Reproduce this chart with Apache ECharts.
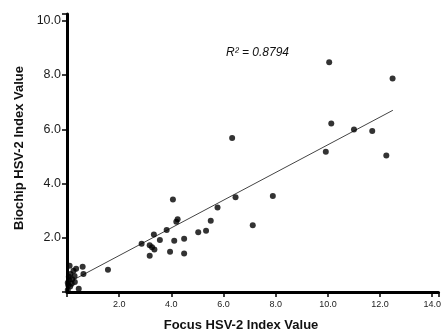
<!DOCTYPE html>
<html>
<head>
<meta charset="utf-8">
<script src="https://cdn.jsdelivr.net/npm/echarts@6/dist/echarts.min.js"></script>
<style>html,body{margin:0;padding:0;background:#fff}#c{width:444px;height:336px}</style>
</head>
<body>
<div id="c"></div>
<script>
// Focus HSV-2 index values (x)
const focusX = [0.03,0.12,0.45,0.03,0.30,0.20,0.07,0.29,0.13,0.63,0.25,0.35,0.10,0.60,0.05,0.08,0.18,
  1.57,
  2.86,3.17,3.26,3.35,3.17,3.33,3.56,3.82,3.95,4.11,4.49,4.49,4.06,4.19,4.24,5.03,5.33,5.51,5.77,6.33,6.46,7.12,7.89,
  9.92,10.05,10.13,11.0,11.7,12.24,12.48];
// Biochip HSV-2 index values (y)
const biochipY = [0.07,0.20,0.12,0.34,0.37,0.47,0.56,0.59,0.66,0.66,0.78,0.86,0.97,0.93,0.25,0.45,0.30,
  0.82,
  1.78,1.72,1.65,1.57,1.34,2.12,1.92,2.29,1.48,1.89,1.96,1.42,3.41,2.59,2.68,2.20,2.26,2.63,3.12,5.68,3.49,2.46,3.54,
  5.17,8.47,6.21,5.99,5.94,5.03,7.87];
// Trend line end points
const trendX = [0.25, 12.49];
const trendY = [0.45, 6.70];
const xTicks = ['2.0','4.0','6.0','8.0','10.0','12.0','14.0'];
const yTicks = ['2.0','4.0','6.0','8.0','10.0'];
const r2Label = 'R² = 0.8794';

const points = focusX.map((x, i) => [x, biochipY[i]]);
const trend = trendX.map((x, i) => [x, trendY[i]]);

const chart = echarts.init(document.getElementById('c'), null, {renderer: 'canvas'});
chart.setOption({
  animation: false,
  grid: {left: 67, top: 14, width: 375, height: 278, containLabel: false},
  xAxis: {
    type: 'value', min: 0, max: 14.24, interval: 2,
    axisLine: {show: true, onZero: false, lineStyle: {color: '#000', width: 3}},
    axisTick: {show: true, length: 5, lineStyle: {color: '#000', width: 1.5}},
    splitLine: {show: false},
    axisLabel: {
      fontSize: 9, color: '#222', fontFamily: 'Liberation Sans, Arial, sans-serif', margin: 8,
      formatter: v => { const s = v.toFixed(1); return xTicks.indexOf(s) >= 0 ? s : ''; }
    }
  },
  yAxis: {
    type: 'value', min: 0, max: 10.25, interval: 2,
    axisLine: {show: true, onZero: false, lineStyle: {color: '#000', width: 3}},
    axisTick: {show: true, length: 5, lineStyle: {color: '#000', width: 1.5}},
    splitLine: {show: false},
    axisLabel: {
      fontSize: 12.5, color: '#1a1a1a', fontFamily: 'Liberation Sans, Arial, sans-serif', margin: 6,
      formatter: v => { const s = v.toFixed(1); return yTicks.indexOf(s) >= 0 ? s : ''; }
    }
  },
  series: [
    {
      type: 'line', data: trend, symbol: 'none', silent: true,
      lineStyle: {color: '#444', width: 1}, z: 2
    },
    {
      type: 'scatter', data: points, symbol: 'circle', symbolSize: 6,
      itemStyle: {color: '#000'}, z: 3
    }
  ],
  graphic: [
    {type: 'text', left: 226, top: 47, style: {text: r2Label, fontSize: 12, fontStyle: 'italic', fill: '#111', fontFamily: 'Liberation Sans, Arial, sans-serif'}},
    {type: 'text', x: 241, y: 325, style: {text: 'Focus HSV-2 Index Value', fontSize: 13, fontWeight: 'bold', fill: '#111', align: 'center', verticalAlign: 'middle', fontFamily: 'Liberation Sans, Arial, sans-serif'}},
    {type: 'text', x: 19, y: 148, rotation: Math.PI / 2, style: {text: 'Biochip HSV-2 Index Value', fontSize: 13, fontWeight: 'bold', fill: '#111', align: 'center', verticalAlign: 'middle', fontFamily: 'Liberation Sans, Arial, sans-serif'}}
  ]
});
</script>
</body>
</html>
